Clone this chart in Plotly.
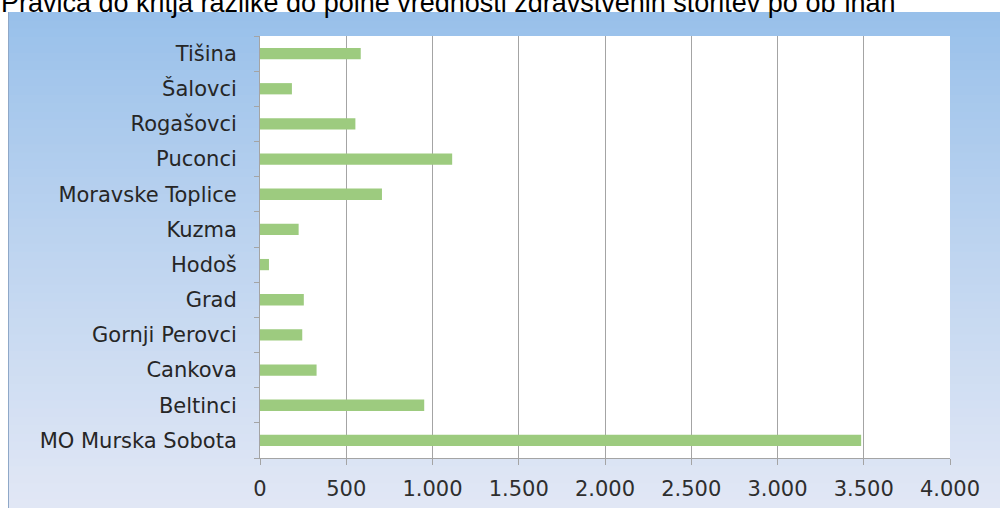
import plotly.graph_objects as go

categories = ["MO Murska Sobota", "Beltinci", "Cankova", "Gornji Perovci", "Grad",
              "Hodoš", "Kuzma", "Moravske Toplice", "Puconci", "Rogašovci",
              "Šalovci", "Tišina"]
values = [3485, 952, 328, 245, 254, 52, 224, 707, 1114, 553, 185, 584]
x_ticks = [0, 500, 1000, 1500, 2000, 2500, 3000, 3500, 4000]
title_text = "Pravica do kritja razlike do polne vrednosti zdravstvenih storitev po obˇinah"

W, H = 1000, 508
L, R, T, B = 260, 50, 36, 50
PW, PH = W - L - R, H - T - B


def px_x(p):
    return (p - L) / PW


def px_y(p):
    return (H - B - p) / PH


def lerp(c1, c2, t):
    return "rgb(%d,%d,%d)" % tuple(round(a + (b - a) * t) for a, b in zip(c1, c2))


fig = go.Figure()
fig.add_trace(go.Bar(
    y=categories, x=values, orientation="h",
    marker=dict(color="#9dcb7f", line=dict(width=0)),
    width=0.32,
))

shapes = []
top_c = (152, 192, 234)
bot_c = (225, 231, 245)
N = 60
y0p, y1p = 12, H
for i in range(N):
    a = y0p + (y1p - y0p) * i / N
    b = y0p + (y1p - y0p) * (i + 1) / N + 0.8
    shapes.append(dict(type="rect", xref="paper", yref="paper",
                       x0=px_x(8), x1=px_x(W + 5), y0=px_y(min(b, H + 2)), y1=px_y(a),
                       fillcolor=lerp(top_c, bot_c, (i / (N - 1)) ** 0.9),
                       line=dict(width=0), layer="below"))
shapes.append(dict(type="line", xref="paper", yref="paper",
                   x0=px_x(8.5), x1=px_x(8.5), y0=px_y(H), y1=px_y(12),
                   line=dict(color="#8fa8c8", width=1), layer="below"))
shapes.append(dict(type="rect", xref="paper", yref="paper",
                   x0=0, x1=1, y0=0, y1=1, fillcolor="white",
                   line=dict(width=0), layer="below"))

fig.update_layout(
    width=W, height=H,
    margin=dict(l=L, r=R, t=T, b=B, autoexpand=False),
    paper_bgcolor="white",
    plot_bgcolor="rgba(0,0,0,0)",
    showlegend=False,
    separators=",.",
    shapes=shapes,
    annotations=[dict(
        text=title_text, xref="paper", yref="paper",
        x=px_x(-1), y=px_y(10), xanchor="left", yanchor="bottom",
        yshift=-10,
        showarrow=False,
        font=dict(family="Liberation Sans, Arial", size=27, color="#000000"),
    )],
)

fig.update_xaxes(
    range=[0, 4000], tickvals=x_ticks, tickformat=",d",
    showgrid=True, gridcolor="#a4a4a4", gridwidth=1,
    showline=True, linecolor="#a4a4a4", linewidth=1,
    ticks="outside", ticklen=6, tickcolor="#a4a4a4",
    ticklabelstandoff=6, automargin=False,
    zeroline=False,
    tickfont=dict(family="DejaVu Sans", size=21, color="#2e2e2e"),
    fixedrange=True,
)
fig.update_yaxes(
    type="category", categoryorder="array", categoryarray=categories,
    showgrid=False, showline=True, linecolor="#a4a4a4", linewidth=1,
    ticks="outside", tickson="boundaries", ticklen=5, tickcolor="#a4a4a4",
    ticklabelstandoff=18, automargin=False,
    tickfont=dict(family="DejaVu Sans", size=21, color="#262626"),
    fixedrange=True,
)

fig.write_html("out.html", config={"displayModeBar": False},
               post_script="document.body.style.margin='0';")
